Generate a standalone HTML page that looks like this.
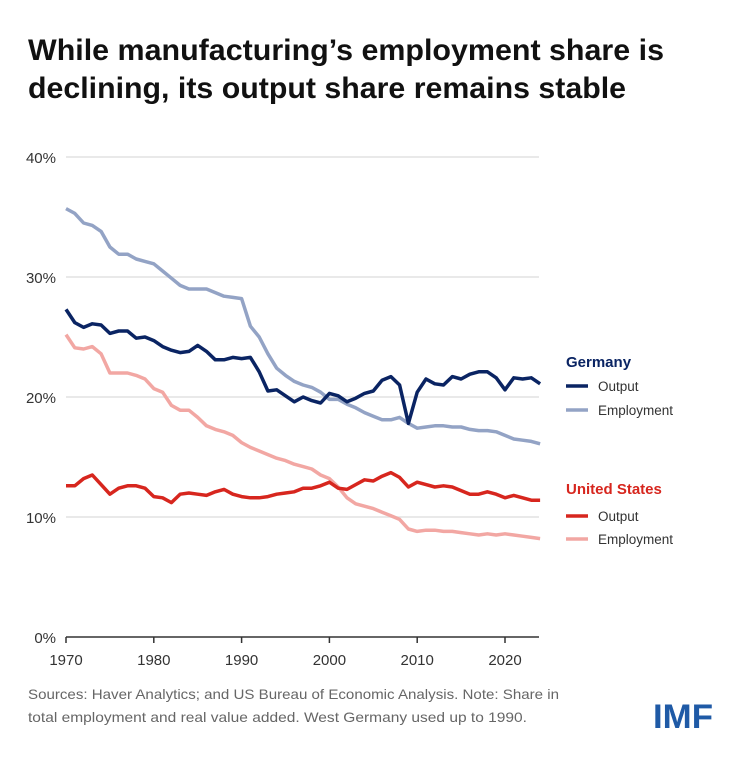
<!DOCTYPE html>
<html><head><meta charset="utf-8"><style>
body{margin:0;background:#fff;width:739px;height:754px;overflow:hidden;font-family:"Liberation Sans",sans-serif}
</style></head><body>
<svg width="739" height="754" xmlns="http://www.w3.org/2000/svg" font-family="Liberation Sans, sans-serif">
<text x="28" y="60" font-size="30" font-weight="bold" fill="#111" textLength="636" lengthAdjust="spacingAndGlyphs">While manufacturing’s employment share is</text>
<text x="28" y="98" font-size="30" font-weight="bold" fill="#111" textLength="598" lengthAdjust="spacingAndGlyphs">declining, its output share remains stable</text>
<g stroke="#e2e2e2" stroke-width="1.5">
<line x1="66" x2="539" y1="157" y2="157"/><line x1="66" x2="539" y1="277" y2="277"/>
<line x1="66" x2="539" y1="397" y2="397"/><line x1="66" x2="539" y1="517" y2="517"/>
</g>
<g font-size="15" fill="#333" text-anchor="end">
<text x="56" y="163">40%</text><text x="56" y="283">30%</text><text x="56" y="403">20%</text><text x="56" y="523">10%</text><text x="56" y="643">0%</text>
</g>
<line x1="66" x2="539" y1="637" y2="637" stroke="#333" stroke-width="1.5"/>
<g stroke="#333" stroke-width="1.5" id="ticks"></g>
<g font-size="15" fill="#333" text-anchor="middle" id="xl"></g>
<g id="lines" fill="none" stroke-width="3.5" stroke-linejoin="round"></g>
<text x="566" y="367" font-size="15" font-weight="bold" fill="#0a2463">Germany</text>
<line x1="566" x2="588" y1="386" y2="386" stroke="#0a2463" stroke-width="3.5"/>
<text x="598" y="391" font-size="13.5" fill="#333">Output</text>
<line x1="566" x2="588" y1="410" y2="410" stroke="#93a3c5" stroke-width="3.5"/>
<text x="598" y="415" font-size="13.5" fill="#333">Employment</text>
<text x="566" y="494" font-size="15" font-weight="bold" fill="#d7261e">United States</text>
<line x1="566" x2="588" y1="516" y2="516" stroke="#d7261e" stroke-width="3.5"/>
<text x="598" y="521" font-size="13.5" fill="#333">Output</text>
<line x1="566" x2="588" y1="539" y2="539" stroke="#f2a7a3" stroke-width="3.5"/>
<text x="598" y="544" font-size="13.5" fill="#333">Employment</text>
<text x="28" y="699" font-size="14" fill="#666" textLength="531" lengthAdjust="spacingAndGlyphs">Sources: Haver Analytics; and US Bureau of Economic Analysis. Note: Share in</text>
<text x="28" y="722" font-size="14" fill="#666" textLength="499" lengthAdjust="spacingAndGlyphs">total employment and real value added. West Germany used up to 1990.</text>
<text x="653" y="728" font-size="34" font-weight="bold" fill="#1f5aa6" textLength="60" lengthAdjust="spacingAndGlyphs">IMF</text>
</svg>
<script>
const X=y=>66+(y-1970)*8.78, Y=v=>637-v*12;
const ns="http://www.w3.org/2000/svg";
const t=document.getElementById('ticks'),xl=document.getElementById('xl');
for(let y=1970;y<=2020;y+=10){let l=document.createElementNS(ns,'line');l.setAttribute('x1',X(y));l.setAttribute('x2',X(y));l.setAttribute('y1',637);l.setAttribute('y2',643);t.appendChild(l);
let tx=document.createElementNS(ns,'text');tx.setAttribute('x',X(y));tx.setAttribute('y',665);tx.textContent=y;xl.appendChild(tx);}
const D=[
["#f2a7a3",[25.2,24.1,24.0,24.2,23.6,22.0,22.0,22.0,21.8,21.5,20.7,20.4,19.3,18.9,18.9,18.3,17.6,17.3,17.1,16.8,16.2,15.8,15.5,15.2,14.9,14.7,14.4,14.2,14.0,13.5,13.2,12.5,11.6,11.1,10.9,10.7,10.4,10.1,9.8,9.0,8.8,8.9,8.9,8.8,8.8,8.7,8.6,8.5,8.6,8.5,8.6,8.5,8.4,8.3,8.2]],
["#93a3c5",[35.7,35.3,34.5,34.3,33.8,32.5,31.9,31.9,31.5,31.3,31.1,30.5,29.9,29.3,29.0,29.0,29.0,28.7,28.4,28.3,28.2,25.9,25.0,23.6,22.4,21.8,21.3,21.0,20.8,20.4,19.8,19.8,19.4,19.1,18.7,18.4,18.1,18.1,18.3,17.8,17.4,17.5,17.6,17.6,17.5,17.5,17.3,17.2,17.2,17.1,16.8,16.5,16.4,16.3,16.1]],
["#d7261e",[12.6,12.6,13.2,13.5,12.7,11.9,12.4,12.6,12.6,12.4,11.7,11.6,11.2,11.9,12.0,11.9,11.8,12.1,12.3,11.9,11.7,11.6,11.6,11.7,11.9,12.0,12.1,12.4,12.4,12.6,12.9,12.4,12.3,12.7,13.1,13.0,13.4,13.7,13.3,12.5,12.9,12.7,12.5,12.6,12.5,12.2,11.9,11.9,12.1,11.9,11.6,11.8,11.6,11.4,11.4]],
["#0a2463",[27.3,26.2,25.8,26.1,26.0,25.3,25.5,25.5,24.9,25.0,24.7,24.2,23.9,23.7,23.8,24.3,23.8,23.1,23.1,23.3,23.2,23.3,22.1,20.5,20.6,20.1,19.6,20.0,19.7,19.5,20.3,20.1,19.6,19.9,20.3,20.5,21.4,21.7,21.0,17.8,20.4,21.5,21.1,21.0,21.7,21.5,21.9,22.1,22.1,21.6,20.6,21.6,21.5,21.6,21.1]]];
const g=document.getElementById('lines');
D.forEach(([c,a])=>{let p=document.createElementNS(ns,'polyline');p.setAttribute('points',a.map((v,i)=>X(1970+i).toFixed(1)+','+Y(v).toFixed(1)).join(' '));p.setAttribute('stroke',c);g.appendChild(p);});
</script>
</body></html>
